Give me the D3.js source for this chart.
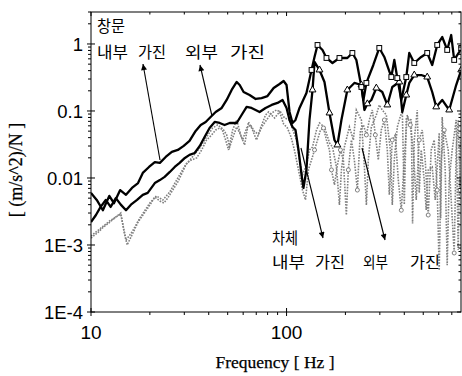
<!DOCTYPE html>
<html>
<head>
<meta charset="utf-8">
<script src="https://cdn.jsdelivr.net/npm/d3@7"></script>
<style>
  html, body { margin: 0; padding: 0; background: #fff; }
  svg { display: block; }
</style>
</head>
<body>
<svg id="chart" width="462" height="376"></svg>
<script>
// Frequency response [ (m/s^2)/N ] vs frequency [Hz], four measured curves.

// 창문 내부 가진 (window, inner excitation) – black, square markers
const windowInner = [
  [10,0.0060],[10.7,0.0047],[11.5,0.0033],[12.4,0.0054],[13.1,0.0042],[14.1,0.0066],
  [15.1,0.0056],[16.2,0.0071],[17.4,0.0084],[18.4,0.0119],[19.8,0.0146],[21.2,0.0173],
  [22.5,0.0168],[24.1,0.0206],[25.9,0.0245],[27.8,0.0262],[29.8,0.0301],[31.9,0.0357],
  [34.3,0.0503],[36.4,0.0618],[38.6,0.0685],[40.9,0.0813],[43.4,0.0966],[46.6,0.111],
  [49.4,0.146],[52.4,0.206],[55.6,0.271],[57.6,0.244],[60.3,0.192],[64.7,0.173],
  [69.5,0.151],[74.5,0.156],[79.9,0.167],[85.9,0.220],[92.1,0.253],[96.6,0.280],
  [100,0.244],[103.6,0.0966],[107.3,0.0662],[111.1,0.0734],[116.5,0.111],[126.4,0.186],
  [134.2,0.409],[139,0.640],[144,0.966],[152.7,0.814],[160,0.618],[171.7,0.520],
  [186.4,0.618],[204.6,0.618],[217.1,0.734],[227.5,0.577],[241.4,0.228],[247.2,0.146],
  [256,0.262],[277.8,0.486],[298,0.872],[316.2,0.640],[343.4,0.321],[355.7,0.577],
  [368.4,0.310],[386.2,0.146],[409.5,0.321],[424.2,0.734],[449.9,0.520],[488.3,0.640],
  [524,0.734],[555.8,0.486],[589.5,0.966],[625.2,1.27],[663,0.814],[695,1.36],
  [719.9,0.577],[763.5,0.757],[781.6,0.872]
];

// 창문 외부 가진 (window, outer excitation) – black, triangle markers
const windowOuter = [
  [10,0.0022],[10.6,0.0028],[11.2,0.0037],[11.9,0.0047],[12.6,0.0037],[13.4,0.0050],
  [14.2,0.0040],[15.1,0.0033],[16.0,0.0040],[17.2,0.0047],[18.4,0.0056],[19.5,0.0060],
  [21.2,0.0084],[22.5,0.0093],[23.8,0.0104],[25.3,0.0123],[26.8,0.0146],[28.4,0.0168],
  [30.2,0.0199],[31.9,0.0221],[33.9,0.0236],[36.0,0.0301],[38.1,0.0410],[40.4,0.0557],
  [42.9,0.0685],[45.5,0.0662],[48.2,0.0618],[51.2,0.0662],[55.6,0.0662],[58.9,0.0871],
  [62.5,0.115],[66.2,0.111],[72.8,0.0966],[78.1,0.111],[83.9,0.123],[89.9,0.132],
  [95.4,0.146],[100,0.111],[103.6,0.0734],[107.3,0.0577],[111.1,0.052],[115.1,0.0262],
  [119.3,0.0111],[122,0.0071],[126.4,0.0132],[131,0.0734],[135.8,0.206],[139,0.54],
  [147.4,0.409],[156.3,0.271],[165.8,0.0933],[175.8,0.0369],[182,0.0311],[190.8,0.0734],
  [204.6,0.206],[222.2,0.262],[241.4,0.244],[250.1,0.1035],[259,0.128],[271.4,0.146],
  [287.8,0.220],[308.7,0.192],[327.6,0.123],[347.4,0.228],[377.2,0.271],[390.8,0.0966],
  [409.5,0.173],[424.2,0.262],[449.9,0.344],[488.3,0.344],[524,0.321],[555.8,0.192],
  [582.6,0.115],[625.2,0.146],[678.8,0.1035],[737,0.244],[781.6,0.409]
];

// 차체 내부 가진 (body, inner excitation) – grey dotted
const bodyInner = [
  [10,0.00127],[10.9,0.00156],[11.6,0.00186],[12.5,0.0022],[13.4,0.00262],[14.2,0.0030],
  [14.7,0.00168],[15.3,0.0010],[16.2,0.00141],[17.4,0.0022],[18.9,0.00311],[20.0,0.00395],
  [21.2,0.0052],[22.5,0.00453],[23.6,0.00424],[24.7,0.00503],[26.2,0.00662],[27.8,0.00872],
  [29.4,0.0123],[30.9,0.0168],[32.7,0.0186],[34.7,0.0199],[36.8,0.0262],[39.0,0.0369],
  [41.4,0.0439],[43.4,0.052],[45.5,0.0557],[47.7,0.052],[49.4,0.0439],[51.2,0.029],
  [53.7,0.0439],[55.6,0.0577],[57.6,0.047],[59.6,0.0369],[62.5,0.0557],[65.5,0.0618],
  [68.7,0.0486],[71.9,0.0454],[75.3,0.0597],[79.0,0.0734],[83.9,0.0933],[88.9,0.1035],
  [93.2,0.0966],[97.7,0.0786],[103.6,0.0734],[108.5,0.0486],[112.4,0.0369],[116.5,0.0186],
  [120.6,0.0111],[126.4,0.0156],[131,0.0262],[135.8,0.029],[142.3,0.052],[147.4,0.0662],
  [156.3,0.0577],[165.8,0.0333],[171.7,0.029],[179.9,0.0146],[186.4,0.00395],[190.8,0.0132],
  [197.6,0.029],[209.6,0.0577],[219.6,0.0369],[227.5,0.1035],[241.4,0.0734],[250.1,0.0146],
  [256,0.00395],[262,0.0186],[271.4,0.0577],[287.8,0.0871],[298,0.123],[308.7,0.1035],
  [323.8,0.0871],[339.4,0.0262],[347.4,0.00395],[355.7,0.0186],[368.4,0.0577],[390.8,0.1035],
  [400,0.0040],[409.5,0.0786],[434.3,0.0734],[441,0.0021],[449.9,0.0369],[466,0.1035],
  [477,0.0060],[488.3,0.0262],[505.8,0.00934],[517.8,0.00333],[530.2,0.0132],[555.8,0.0146],
  [575.8,0.00469],[603.5,0.047],[614,0.0025],[625.2,0.0813],[647.6,0.0132],[663,0.0005],
  [678.8,0.00934],[703.2,0.0262],[737,0.0734],[754.6,0.00084],[772.5,0.0369]
];

// 차체 외부 가진 (body, outer excitation) – grey dotted, circle markers
const bodyOuter = [
  [10,0.00136],[11.1,0.00174],[12.5,0.0023],[14.2,0.0029],[15.1,0.00118],[16.2,0.00156],
  [17.8,0.00254],[20.0,0.00424],[21.6,0.0054],[23.3,0.0047],[25.3,0.0062],[27.8,0.0100],
  [30.2,0.0151],[32.7,0.0199],[36.0,0.0281],[39.0,0.041],[41.9,0.0557],[44.4,0.0618],
  [46.6,0.0557],[48.8,0.0369],[50.5,0.0262],[53.0,0.052],[55.6,0.0734],[58.3,0.0439],
  [61.0,0.0311],[63.9,0.0685],[67.0,0.052],[70.2,0.0369],[73.6,0.0557],[78.1,0.0871],
  [80.9,0.0966],[86.9,0.0786],[92.1,0.0966],[96.6,0.064],[101,0.0557],[105.4,0.041],
  [109.7,0.0262],[116.5,0.0111],[120.6,0.0066],[125,0.0047],[129.4,0.0132],[134.2,0.0186],
  [139,0.0262],[144,0.0369],[149.1,0.052],[154.5,0.0557],[160,0.0369],[165.8,0.0262],
  [169.7,0.0132],[175.8,0.0079],[182,0.0156],[188.6,0.0262],[195.3,0.0186],[202.2,0.0028],
  [207,0.0132],[214.6,0.0369],[222.2,0.0186],[230.2,0.0066],[238.6,0.052],[247.2,0.0618],
  [256,0.0439],[265.1,0.0734],[274.6,0.1035],[284.4,0.0439],[294.5,0.0186],[305.1,0.052],
  [316.2,0.0734],[327.6,0.0262],[335.4,0.0056],[347.4,0.0369],[359.9,0.0439],[372.8,0.0093],
  [386.2,0.0033],[400,0.0186],[414.3,0.0871],[429.2,0.0618],[444.6,0.0262],[460.5,0.0047],
  [477,0.0369],[494.1,0.052],[511.8,0.0186],[530.2,0.0028],[549.3,0.0262],[569,0.0369],
  [589.5,0.0066],[603.5,0.00042],[617.9,0.0186],[640,0.052],[670.9,0.0262],[695,0.0047],
  [719.9,0.00076],[737,0.0262],[754.6,0.0734],[772.5,0.0066]
];

const xTicks = [10, 100];
const xTickLabels = ["10", "100"];
const yTicks = [1e-4, 1e-3, 1e-2, 0.1, 1];
const yTickLabels = ["1E-4", "1E-3", "0.01", "0.1", "1"];

const xTitle = "Frequency [ Hz ]";
const yTitle = "[ (m/s^2)/N ]";

const svg = d3.select("#chart");
const plot = { left: 91, right: 461, top: 12, bottom: 312 };

const x = d3.scaleLog().domain([10, 780]).range([plot.left, plot.right]);
const y = d3.scaleLog().domain([1e-4, 3]).range([plot.bottom, plot.top]);

svg.append("defs").append("clipPath").attr("id", "plotClip")
  .append("rect")
  .attr("x", plot.left).attr("y", plot.top)
  .attr("width", plot.right - plot.left).attr("height", plot.bottom - plot.top);

const line = d3.line().x(d => x(d[0])).y(d => y(d[1]));
const g = svg.append("g").attr("clip-path", "url(#plotClip)");

// grey body curves first, black window curves on top
const greyStyle = s => s.attr("fill", "none").attr("stroke", "#808080")
  .attr("stroke-width", 1.6).attr("stroke-dasharray", "1.6 1.3");
g.append("path").datum(bodyInner).attr("d", line).call(greyStyle);
g.append("path").datum(bodyOuter).attr("d", line).call(greyStyle);

g.selectAll("circle.bo")
  .data(bodyOuter.filter((d, i) => d[0] >= 130 && i % 3 === 0))
  .join("circle").attr("class", "bo")
  .attr("cx", d => x(d[0])).attr("cy", d => y(d[1])).attr("r", 2)
  .attr("fill", "#fff").attr("stroke", "#808080").attr("stroke-width", 1);

const blackStyle = s => s.attr("fill", "none").attr("stroke", "#000")
  .attr("stroke-width", 2.3).attr("stroke-linejoin", "round");
g.append("path").datum(windowOuter).attr("d", line).call(blackStyle);
g.append("path").datum(windowInner).attr("d", line).call(blackStyle);

g.selectAll("path.tri")
  .data(windowOuter.filter((d, i) => d[0] >= 130 && i % 2 === 0))
  .join("path").attr("class", "tri")
  .attr("d", d3.symbol().type(d3.symbolTriangle).size(20))
  .attr("transform", d => `translate(${x(d[0])},${y(d[1])})`)
  .attr("fill", "#fff").attr("stroke", "#000").attr("stroke-width", 1);

g.selectAll("rect.sq")
  .data(windowInner.filter((d, i) => d[0] >= 130 && i % 2 === 0))
  .join("rect").attr("class", "sq")
  .attr("x", d => x(d[0]) - 2.4).attr("y", d => y(d[1]) - 2.4)
  .attr("width", 4.8).attr("height", 4.8)
  .attr("fill", "#fff").attr("stroke", "#000").attr("stroke-width", 1);

// frame and ticks
const axisG = svg.append("g").attr("stroke", "#000").attr("stroke-width", 1);
axisG.append("rect")
  .attr("x", plot.left).attr("y", plot.top)
  .attr("width", plot.right - plot.left).attr("height", plot.bottom - plot.top)
  .attr("fill", "none");

const xMinor = [];
[10, 100].forEach(b => { for (let k = 2; k <= 9; k++) { const v = b * k; if (v <= 780) xMinor.push(v); } });
const yMinor = [];
[1e-4, 1e-3, 1e-2, 0.1, 1].forEach(b => { for (let k = 2; k <= 9; k++) { const v = b * k; if (v <= 3) yMinor.push(v); } });

xTicks.forEach(v => {
  axisG.append("line").attr("x1", x(v)).attr("x2", x(v)).attr("y1", plot.bottom - 4).attr("y2", plot.bottom + 4);
  axisG.append("line").attr("x1", x(v)).attr("x2", x(v)).attr("y1", plot.top).attr("y2", plot.top + 4);
});
xMinor.forEach(v => {
  axisG.append("line").attr("x1", x(v)).attr("x2", x(v)).attr("y1", plot.bottom).attr("y2", plot.bottom + 3);
  axisG.append("line").attr("x1", x(v)).attr("x2", x(v)).attr("y1", plot.top).attr("y2", plot.top + 2.5);
});
yTicks.forEach(v => {
  axisG.append("line").attr("x1", plot.left - 4).attr("x2", plot.left + 4).attr("y1", y(v)).attr("y2", y(v));
  axisG.append("line").attr("x1", plot.right - 4).attr("x2", plot.right).attr("y1", y(v)).attr("y2", y(v));
});
yMinor.forEach(v => {
  axisG.append("line").attr("x1", plot.left - 3).attr("x2", plot.left).attr("y1", y(v)).attr("y2", y(v));
  axisG.append("line").attr("x1", plot.right - 2.5).attr("x2", plot.right).attr("y1", y(v)).attr("y2", y(v));
});

// tick labels
svg.append("g").selectAll("text").data(xTicks).join("text")
  .attr("x", d => x(d)).attr("y", 339)
  .attr("text-anchor", "middle")
  .attr("font-family", "'Liberation Sans', Arial, sans-serif").attr("font-size", 19)
  .text((d, i) => xTickLabels[i]);

svg.append("g").selectAll("text").data(yTicks).join("text")
  .attr("x", 83).attr("y", d => y(d))
  .attr("dy", "0.36em")
  .attr("text-anchor", "end")
  .attr("font-family", "'Liberation Sans', Arial, sans-serif").attr("font-size", 18.5)
  .text((d, i) => yTickLabels[i]);

// axis titles
svg.append("text")
  .attr("x", 275).attr("y", 368)
  .attr("text-anchor", "middle")
  .attr("font-family", "'Liberation Serif', 'Times New Roman', serif")
  .attr("font-size", 17.5)
  .attr("stroke", "#000").attr("stroke-width", 0.25)
  .text(xTitle);

svg.append("text")
  .attr("transform", "translate(22,170) rotate(-90)")
  .attr("text-anchor", "middle")
  .attr("font-family", "'Liberation Serif', 'Times New Roman', serif")
  .attr("font-size", 18)
  .attr("stroke", "#000").attr("stroke-width", 0.25)
  .text(yTitle);

// annotations
const kFont = "'Noto Sans CJK KR', sans-serif";
const note = (txt, xx, yy, w) => svg.append("text")
  .attr("x", xx).attr("y", yy)
  .attr("font-family", kFont).attr("font-size", 15.5)
  .attr("textLength", w).attr("lengthAdjust", "spacingAndGlyphs")
  .text(txt);

note("창문", 97, 32, 28);
note("내부", 97, 58, 31);
note("가진", 138, 58, 28);
note("외부", 185, 58, 33);
note("가진", 230, 58, 35);

note("차체", 272, 244, 26);
note("내부", 272, 268, 33);
note("가진", 315, 268, 30);
note("외부", 363, 268, 25);
note("가진", 410, 268, 30);

const arrows = [
  [[160, 160], [143, 64]],
  [[212, 116], [200, 65]],
  [[301, 148], [323, 238]],
  [[362, 148], [385, 240]]
];
svg.append("defs").append("marker")
  .attr("id", "head").attr("viewBox", "0 0 10 10")
  .attr("refX", 10).attr("refY", 5)
  .attr("markerWidth", 9).attr("markerHeight", 6)
  .attr("markerUnits", "userSpaceOnUse")
  .attr("orient", "auto")
  .append("path").attr("d", "M0,0 L10,5 L0,10 Z").attr("fill", "#000");

svg.append("g").selectAll("line").data(arrows).join("line")
  .attr("x1", d => d[0][0]).attr("y1", d => d[0][1])
  .attr("x2", d => d[1][0]).attr("y2", d => d[1][1])
  .attr("stroke", "#000").attr("stroke-width", 1.1)
  .attr("marker-end", "url(#head)");
</script>
</body>
</html>
